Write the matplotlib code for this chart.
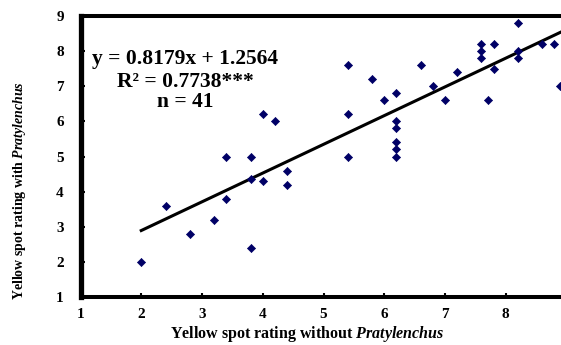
import matplotlib
matplotlib.use("Agg")
import matplotlib.pyplot as plt
import numpy as np

plt.rcParams['font.family'] = ['Liberation Serif', 'DejaVu Serif']
plt.rcParams['mathtext.fontset'] = 'custom'
plt.rcParams['mathtext.rm'] = 'Liberation Serif:bold'
plt.rcParams['mathtext.it'] = 'Liberation Serif:italic:bold'
plt.rcParams['mathtext.bf'] = 'Liberation Serif:bold'

# Data
x_without = [2.0, 2.4, 2.8, 3.2, 3.4, 3.4, 3.8, 3.8, 3.8, 4.0, 4.0, 4.2, 4.4, 4.4,
             5.4, 5.4, 5.4, 5.8, 6.0, 6.2, 6.2, 6.2, 6.2, 6.2, 6.2, 6.6, 6.8, 7.0,
             7.2, 7.6, 7.6, 7.6, 7.7, 7.8, 7.8, 8.2, 8.2, 8.2, 8.6, 8.8, 8.9]
y_with = [2.0, 3.6, 2.8, 3.2, 3.8, 5.0, 2.4, 4.35, 5.0, 4.3, 6.2, 6.0, 4.2, 4.6,
          7.6, 6.2, 5.0, 7.2, 6.6, 6.8, 6.0, 5.8, 5.4, 5.2, 5.0, 7.6, 7.0, 6.6,
          7.4, 8.2, 8.0, 7.8, 6.6, 8.2, 7.5, 8.8, 8.0, 7.8, 8.2, 8.2, 7.0]
slope = 0.8179
intercept = 1.2564
r_squared = "0.7738"
n_obs = 41

x_ticks = [1, 2, 3, 4, 5, 6, 7, 8, 9]
y_ticks = [1, 2, 3, 4, 5, 6, 7, 8, 9]

fig = plt.figure(figsize=(5.61, 3.45), dpi=100)
W, H = 561, 345
left_px, right_px, bottom_px, top_px = 80.5, 566.5, 297, 16
ax = fig.add_axes([left_px / W, (H - bottom_px) / H,
                   (right_px - left_px) / W, (bottom_px - top_px) / H])

ax.scatter(x_without, y_with, marker='D', s=17, color='#000066',
           edgecolors='#000066', linewidths=0.5, zorder=3)

xl = np.array([min(x_without), max(x_without)])
ax.plot(xl, slope * xl + intercept, color='black', lw=2.2, zorder=2)

ax.set_xlim(1, 9)
ax.set_ylim(1, 9)
ax.set_xticks(x_ticks)
ax.set_yticks(y_ticks)
ax.set_xticklabels([str(t) for t in x_ticks], fontweight='bold', fontsize=11)
ax.set_yticklabels([str(t) for t in y_ticks], fontweight='bold', fontsize=11)
ax.tick_params(axis='x', direction='in', length=3, width=1.5, pad=8)
ax.tick_params(axis='y', direction='in', length=3, width=1.5, pad=12)

for s in ['top', 'bottom', 'right']:
    ax.spines[s].set_linewidth(2.9)
ax.spines['left'].set_linewidth(3.8)

eq_x = 2.72
ax.text(eq_x, 7.78, f"y = {slope}x + {intercept}", ha='center', va='center',
        fontsize=15.5, fontweight='bold')
ax.text(eq_x, 7.13, f"R² = {r_squared}***", ha='center', va='center',
        fontsize=15.5, fontweight='bold')
ax.text(eq_x, 6.55, f"n = {n_obs}", ha='center', va='center',
        fontsize=15.5, fontweight='bold')

fig.text(307 / W, 1 - 334 / H, r"Yellow spot rating without $\it{Pratylenchus}$",
         ha='center', va='center', fontsize=11.5, fontweight='bold')
fig.text(20 / W, 1 - 191 / H, r"Yellow spot rating with $\it{Pratylenchus}$",
         ha='center', va='center', rotation=90, fontsize=10, fontweight='bold')

fig.savefig("out.png", dpi=100)
